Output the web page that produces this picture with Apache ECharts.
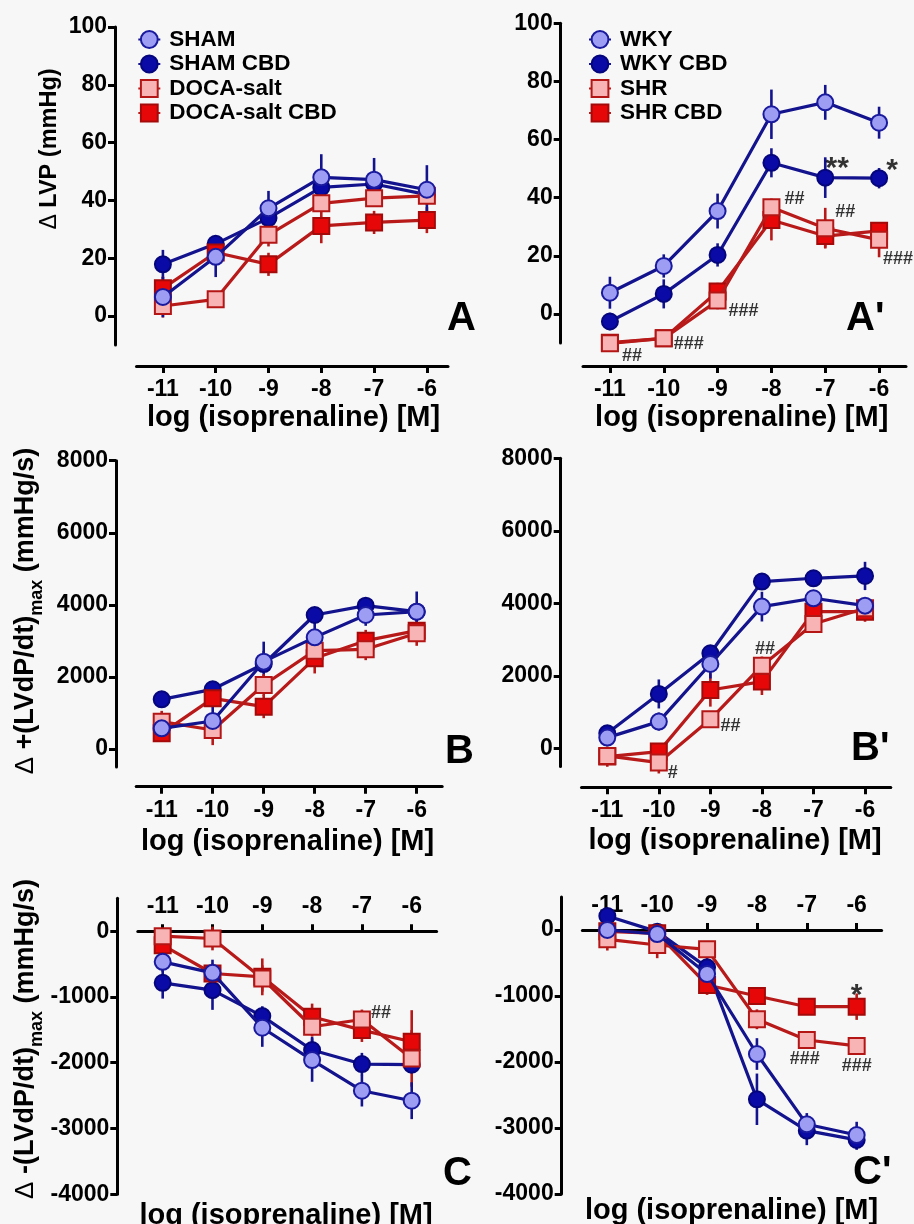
<!DOCTYPE html>
<html>
<head>
<meta charset="utf-8">
<script src="https://cdn.jsdelivr.net/npm/echarts@6/dist/echarts.min.js"></script>
<style>
  html, body { margin: 0; padding: 0; background: #f7f7f7; }
  #chart { width: 914px; height: 1224px; }
</style>
</head>
<body>
<div id="chart"></div>
<script>
// Isoprenaline concentrations, log [M]
const doses = [-11, -10, -9, -8, -7, -6];
const doseTicks = [-11, -10, -9, -8, -7, -6];

// Tick values for each row of panels
const lvpTicks = [0, 20, 40, 60, 80, 100];
const dpMaxTicks = [0, 2000, 4000, 6000, 8000];
const dpMinTicks = [-4000, -3000, -2000, -1000, 0];

// A: ΔLVP (mmHg), DOCA-salt model (means and SEM)
const lvpSham        = [6.6, 20.5, 37.3, 48.0, 47.2, 43.7];
const lvpShamSem     = [7, 7, 6, 8, 7.5, 8.5];
const lvpShamCbd     = [17.9, 25.0, 33.9, 44.5, 45.7, 42.0];
const lvpShamCbdSem  = [5, 3, 4, 4, 3, 3];
const lvpDoca        = [3.5, 5.8, 28.1, 39.0, 40.8, 41.6];
const lvpDocaSem     = [4, 2, 4, 3, 3, 3];
const lvpDocaCbd     = [9.6, 22.0, 17.9, 31.2, 32.4, 33.2];
const lvpDocaCbdSem  = [4, 3, 4, 6, 4, 4.5];

// A': ΔLVP (mmHg), SHR model
const lvpWky         = [7.3, 16.5, 35.4, 68.7, 72.8, 65.8];
const lvpWkySem      = [5.5, 4, 6, 8.5, 6, 5.5];
const lvpWkyCbd      = [-2.6, 6.9, 20.3, 52.0, 46.9, 46.7];
const lvpWkyCbdSem   = [3, 5, 4, 5, 7, 3.5];
const lvpShr         = [-10.1, -8.4, 4.6, 36.7, 29.5, 25.5];
const lvpShrSem      = [2, 2, 3, 3, 7, 6];
const lvpShrCbd      = [-9.9, -8.4, 7.7, 32.3, 26.8, 28.6];
const lvpShrCbdSem   = [2, 2, 3, 7, 4, 3];

// B: Δ+(LVdP/dt)max (mmHg/s), DOCA-salt model
const dpMaxSham       = [573, 777, 2423, 3098, 3718, 3810];
const dpMaxShamSem    = [370, 400, 300, 540, 300, 560];
const dpMaxShamCbd    = [1378, 1656, 2358, 3718, 3977, 3810];
const dpMaxShamCbdSem = [200, 150, 620, 200, 200, 200];
const dpMaxDoca       = [758, 527, 1776, 2728, 2765, 3209];
const dpMaxDocaSem    = [300, 420, 300, 300, 300, 200];
const dpMaxDocaCbd    = [435, 1406, 1175, 2516, 3006, 3283];
const dpMaxDocaCbdSem = [200, 200, 320, 420, 300, 420];

// B': Δ+(LVdP/dt)max (mmHg/s), SHR model
const dpMaxWky        = [294, 736, 2326, 3908, 4138, 3935];
const dpMaxWkySem     = [150, 250, 400, 410, 200, 150];
const dpMaxWkyCbd     = [414, 1499, 2621, 4598, 4690, 4754];
const dpMaxWkyCbdSem  = [200, 400, 150, 150, 150, 390];
const dpMaxShr        = [-211, -395, 800, 2280, 3430, 3862];
const dpMaxShrSem     = [150, 300, 200, 250, 250, 200];
const dpMaxShrCbd     = [-230, -92, 1609, 1839, 3770, 3770];
const dpMaxShrCbdSem  = [280, 200, 460, 370, 300, 280];

// C: Δ-(LVdP/dt)max (mmHg/s), DOCA-salt model
const dpMinSham       = [-466, -633, -1468, -1959, -2425, -2577];
const dpMinShamSem    = [150, 200, 290, 330, 240, 280];
const dpMinShamCbd    = [-785, -896, -1291, -1807, -2020, -2030];
const dpMinShamCbdSem = [240, 300, 150, 200, 170, 100];
const dpMinDoca       = [-76, -111, -719, -1453, -1342, -1934];
const dpMinDocaSem    = [100, 180, 200, 150, 150, 430];
const dpMinDocaCbd    = [-213, -643, -694, -1301, -1504, -1681];
const dpMinDocaCbdSem = [150, 150, 280, 200, 180, 480];

// C': Δ-(LVdP/dt)max (mmHg/s), SHR model
const dpMinWky        = [0, -61, -667, -1879, -2944, -3106];
const dpMinWkySem     = [150, 100, 190, 240, 170, 200];
const dpMinWkyCbd     = [212, -25, -566, -2565, -3040, -3181];
const dpMinWkyCbdSem  = [100, 100, 150, 390, 220, 150];
const dpMinShr        = [-141, -227, -293, -1353, -1667, -1757];
const dpMinShrSem     = [170, 200, 100, 150, 100, 100];
const dpMinShrCbd     = [-20, -50, -833, -1000, -1162, -1162];
const dpMinShrCbdSem  = [100, 100, 150, 100, 100, 200];

const FONT = '"Liberation Sans", Arial, Helvetica, sans-serif';

const STYLE = {
  lightCircle: { symbol: 'circle', size: 16, fill: '#9c9df3', border: '#1a1a9e', line: '#13138e' },
  darkCircle:  { symbol: 'circle', size: 16, fill: '#0a0aa6', border: '#05057c', line: '#13138e' },
  lightSquare: { symbol: 'rect',   size: 16, fill: '#f8b4b4', border: '#b41616', line: '#b81a1a' },
  redSquare:   { symbol: 'rect',   size: 16, fill: '#e60808', border: '#a50a0a', line: '#b81a1a' }
};

// Plot rectangles: A, A', B, B', C, C'
const grids = [
  { left: 136.5, top: 27,    width: 311.5, height: 318 },
  { left: 583,   top: 23.3,  width: 323,   height: 319.7 },
  { left: 136.2, top: 460.7, width: 306,   height: 306.3 },
  { left: 581.5, top: 458.3, width: 309.3, height: 308.1 },
  { left: 137.8, top: 898.3, width: 298.8, height: 296 },
  { left: 582.4, top: 897,   width: 299.2, height: 297 }
];

// The bottom row puts its dose axis along y = 0, above the curves
const axisDefs = [
  { xMax: -5.6, xOffset: 21,    yMin: -10,   yMax: 100,  yOffset: 21.5, yTicks: lvpTicks,   top: false },
  { xMax: -5.5, xOffset: 23,    yMin: -10,   yMax: 100,  yOffset: 22.3, yTicks: lvpTicks,   top: false },
  { xMax: -5.5, xOffset: 19.7,  yMin: -500,  yMax: 8000, yOffset: 20.2, yTicks: dpMaxTicks, top: false },
  { xMax: -5.5, xOffset: 20.9,  yMin: -500,  yMax: 8000, yOffset: 20.8, yTicks: dpMaxTicks, top: false },
  { xMax: -5.5, xOffset: -32.9, yMin: -4000, yMax: 500,  yOffset: 20.5, yTicks: dpMinTicks, top: true },
  { xMax: -5.5, xOffset: -33,   yMin: -4000, yMax: 500,  yOffset: 20.7, yTicks: dpMinTicks, top: true }
];

const blackLine = { color: '#000', width: 3 };
const tickLabel = { fontSize: 23, fontWeight: 'bold', color: '#000', fontFamily: FONT };

const xAxes = axisDefs.map((d, gi) => ({
  gridIndex: gi, type: 'value', min: -11.5, max: d.xMax,
  position: d.top ? 'top' : 'bottom', offset: d.xOffset,
  axisLine: { show: true, onZero: false, lineStyle: blackLine },
  axisTick: { show: true, customValues: doseTicks, length: 7, lineStyle: blackLine },
  axisLabel: Object.assign({ customValues: doseTicks, margin: d.top ? 13 : 12, formatter: v => String(v) }, tickLabel),
  splitLine: { show: false }
}));

const yAxes = axisDefs.map((d, gi) => ({
  gridIndex: gi, type: 'value', min: d.yMin, max: d.yMax,
  position: 'left', offset: d.yOffset,
  axisLine: { show: true, onZero: false, lineStyle: blackLine },
  axisTick: { show: true, customValues: d.yTicks, length: 7, lineStyle: blackLine },
  axisLabel: Object.assign({ customValues: d.yTicks, margin: 8, formatter: v => String(v) }, tickLabel),
  splitLine: { show: false }
}));

function lineSeries(name, gi, vals, st, z) {
  return {
    type: 'line', name, xAxisIndex: gi, yAxisIndex: gi, z,
    data: doses.map((d, i) => [d, vals[i]]),
    symbol: st.symbol, symbolSize: st.size, showAllSymbol: true, clip: false,
    itemStyle: { color: st.fill, borderColor: st.border, borderWidth: 2, opacity: 1 },
    lineStyle: { color: st.line, width: 3.2 },
    emphasis: { disabled: true }
  };
}

function semSeries(name, gi, vals, sem, st) {
  return {
    type: 'custom', name: name + ' SEM', xAxisIndex: gi, yAxisIndex: gi, z: 1, clip: false,
    data: doses.map((d, i) => [d, vals[i], sem[i]]),
    encode: { x: 0, y: 1 },
    renderItem: (params, api) => {
      const x = api.value(0), y = api.value(1), e = api.value(2);
      const p1 = api.coord([x, y - e]);
      const p2 = api.coord([x, y + e]);
      return { type: 'line', shape: { x1: p1[0], y1: p1[1], x2: p2[0], y2: p2[1] },
               style: { stroke: st.line, lineWidth: 2.6 } };
    },
    silent: true
  };
}

// One panel = four groups; drawn so the light circles end on top
function panel(gi, names, g) {
  const order = [
    [names[1], g[1], STYLE.darkCircle, 2],
    [names[3], g[3], STYLE.redSquare, 3],
    [names[2], g[2], STYLE.lightSquare, 4],
    [names[0], g[0], STYLE.lightCircle, 5]
  ];
  const out = [];
  order.forEach(([n, v, st]) => out.push(semSeries(n, gi, v[0], v[1], st)));
  order.forEach(([n, v, st, z]) => out.push(lineSeries(n, gi, v[0], st, z)));
  return out;
}

const docaNames = ['SHAM', 'SHAM CBD', 'DOCA-salt', 'DOCA-salt CBD'];
const shrNames = ['WKY', 'WKY CBD', 'SHR', 'SHR CBD'];

const series = [].concat(
  panel(0, docaNames, [[lvpSham, lvpShamSem], [lvpShamCbd, lvpShamCbdSem], [lvpDoca, lvpDocaSem], [lvpDocaCbd, lvpDocaCbdSem]]),
  panel(1, shrNames, [[lvpWky, lvpWkySem], [lvpWkyCbd, lvpWkyCbdSem], [lvpShr, lvpShrSem], [lvpShrCbd, lvpShrCbdSem]]),
  panel(2, docaNames, [[dpMaxSham, dpMaxShamSem], [dpMaxShamCbd, dpMaxShamCbdSem], [dpMaxDoca, dpMaxDocaSem], [dpMaxDocaCbd, dpMaxDocaCbdSem]]),
  panel(3, shrNames, [[dpMaxWky, dpMaxWkySem], [dpMaxWkyCbd, dpMaxWkyCbdSem], [dpMaxShr, dpMaxShrSem], [dpMaxShrCbd, dpMaxShrCbdSem]]),
  panel(4, docaNames, [[dpMinSham, dpMinShamSem], [dpMinShamCbd, dpMinShamCbdSem], [dpMinDoca, dpMinDocaSem], [dpMinDocaCbd, dpMinDocaCbdSem]]),
  panel(5, shrNames, [[dpMinWky, dpMinWkySem], [dpMinWkyCbd, dpMinWkyCbdSem], [dpMinShr, dpMinShrSem], [dpMinShrCbd, dpMinShrCbdSem]])
);

// Significance marks, anchored to the mean they refer to
const marks = [
  { gi: 1, vals: lvpWkyCbd, i: 4, text: '**',  big: true, align: 'center', pos: [12, -9] },
  { gi: 1, vals: lvpWkyCbd, i: 5, text: '*',   big: true, align: 'center', pos: [13, -7] },
  { gi: 1, vals: lvpShr, i: 3, text: '##',  align: 'center', pos: [23, -8] },
  { gi: 1, vals: lvpShr, i: 4, text: '##',  align: 'center', pos: [20, -16] },
  { gi: 1, vals: lvpShr, i: 5, text: '###', align: 'left',   pos: [4, 19] },
  { gi: 1, vals: lvpShr, i: 2, text: '###', align: 'left',   pos: [11, 10] },
  { gi: 1, vals: lvpShr, i: 1, text: '###', align: 'left',   pos: [10, 6] },
  { gi: 1, vals: lvpShr, i: 0, text: '##',  align: 'left',   pos: [12, 13] },
  { gi: 3, vals: dpMaxShr, i: 1, text: '#',   align: 'left',   pos: [9, 10] },
  { gi: 3, vals: dpMaxShr, i: 2, text: '##',  align: 'left',   pos: [10, 7] },
  { gi: 3, vals: dpMaxShr, i: 3, text: '##',  align: 'center', pos: [3, -17] },
  { gi: 4, vals: dpMinDoca, i: 4, text: '##', align: 'left',   pos: [9, -6] },
  { gi: 5, vals: dpMinShrCbd, i: 5, text: '*', big: true, align: 'center', pos: [0, -11] },
  { gi: 5, vals: dpMinShr, i: 4, text: '###', align: 'center', pos: [-2, 19] },
  { gi: 5, vals: dpMinShr, i: 5, text: '###', align: 'center', pos: [0, 20] }
];

[0, 1, 2, 3, 4, 5].forEach(gi => {
  const items = marks.filter(m => m.gi === gi);
  if (!items.length) return;
  series.push({
    type: 'scatter', xAxisIndex: gi, yAxisIndex: gi, z: 10, silent: true, clip: false,
    symbol: 'circle', symbolSize: 0,
    data: items.map(m => ({
      value: [doses[m.i], m.vals[m.i]],
      label: {
        show: true, formatter: m.text, position: m.pos, align: m.align, verticalAlign: 'middle',
        fontSize: m.big ? 30 : 18, fontWeight: 'bold', color: '#000', fontFamily: FONT
      }
    }))
  });
});

const legendText = { fontSize: 22.5, fontWeight: 'bold', color: '#000', fontFamily: FONT, padding: [0, 0, 0, 4] };
const legends = [
  { left: 132.3, top: 23, data: docaNames },
  { left: 583, top: 23, data: shrNames }
].map(l => Object.assign({
  orient: 'vertical', itemWidth: 22, itemHeight: 21, itemGap: 1.5,
  selectedMode: false, textStyle: legendText
}, l));

function txt(x, y, text, size, extra) {
  return {
    type: 'text', x, y, silent: true,
    style: Object.assign({
      text, fontSize: size, fontWeight: 'bold', fontFamily: FONT, fill: '#000',
      align: 'left', verticalAlign: 'middle'
    }, extra || {})
  };
}

const xTitle = 'log (isoprenaline) [M]';
const graphics = [
  // panel letters
  txt(447, 319, 'A', 40), txt(846, 319, "A'", 40),
  txt(445, 752, 'B', 40), txt(851, 749, "B'", 40),
  txt(443, 1174, 'C', 40), txt(853, 1172.5, "C'", 40),
  // x titles
  txt(293.5, 403, xTitle, 29, { align: 'center', verticalAlign: 'top' }),
  txt(741.7, 403, xTitle, 29, { align: 'center', verticalAlign: 'top' }),
  txt(287.5, 827, xTitle, 29, { align: 'center', verticalAlign: 'top' }),
  txt(735, 826, xTitle, 29, { align: 'center', verticalAlign: 'top' }),
  txt(286, 1201, xTitle, 29, { align: 'center', verticalAlign: 'top' }),
  txt(731.5, 1196, xTitle, 29, { align: 'center', verticalAlign: 'top' })
];

const yRich = {
  d: { fontWeight: 'normal', fontFamily: FONT, fontSize: 26, lineHeight: 32 },
  m: { fontWeight: 'bold', fontFamily: FONT, fontSize: 27, lineHeight: 32 },
  s: { fontWeight: 'bold', fontFamily: FONT, fontSize: 18, lineHeight: 32, verticalAlign: 'bottom', padding: [0, 0, -4, 0] }
};
graphics.push(
  Object.assign(txt(50, 149, '{d|Δ} LVP (mmHg)', 23.5, { align: 'center', rich: {
    d: { fontWeight: 'normal', fontFamily: FONT, fontSize: 23 } } }), { rotation: Math.PI / 2 }),
  Object.assign(txt(26, 611, '{d|Δ}{m| +(LVdP/dt)}{s|max}{m| (mmHg/s)}', 27, { align: 'center', rich: yRich }), { rotation: Math.PI / 2 }),
  Object.assign(txt(26, 1039, '{d|Δ}{m| -(LVdP/dt)}{s|max}{m| (mmHg/s)}', 27, { align: 'center', rich: yRich }), { rotation: Math.PI / 2 })
);

const chart = echarts.init(document.getElementById('chart'), null, { renderer: 'canvas' });
chart.setOption({
  backgroundColor: '#f7f7f7',
  animation: false,
  grid: grids,
  xAxis: xAxes,
  yAxis: yAxes,
  legend: legends,
  series,
  graphic: graphics
});
</script>
</body>
</html>
